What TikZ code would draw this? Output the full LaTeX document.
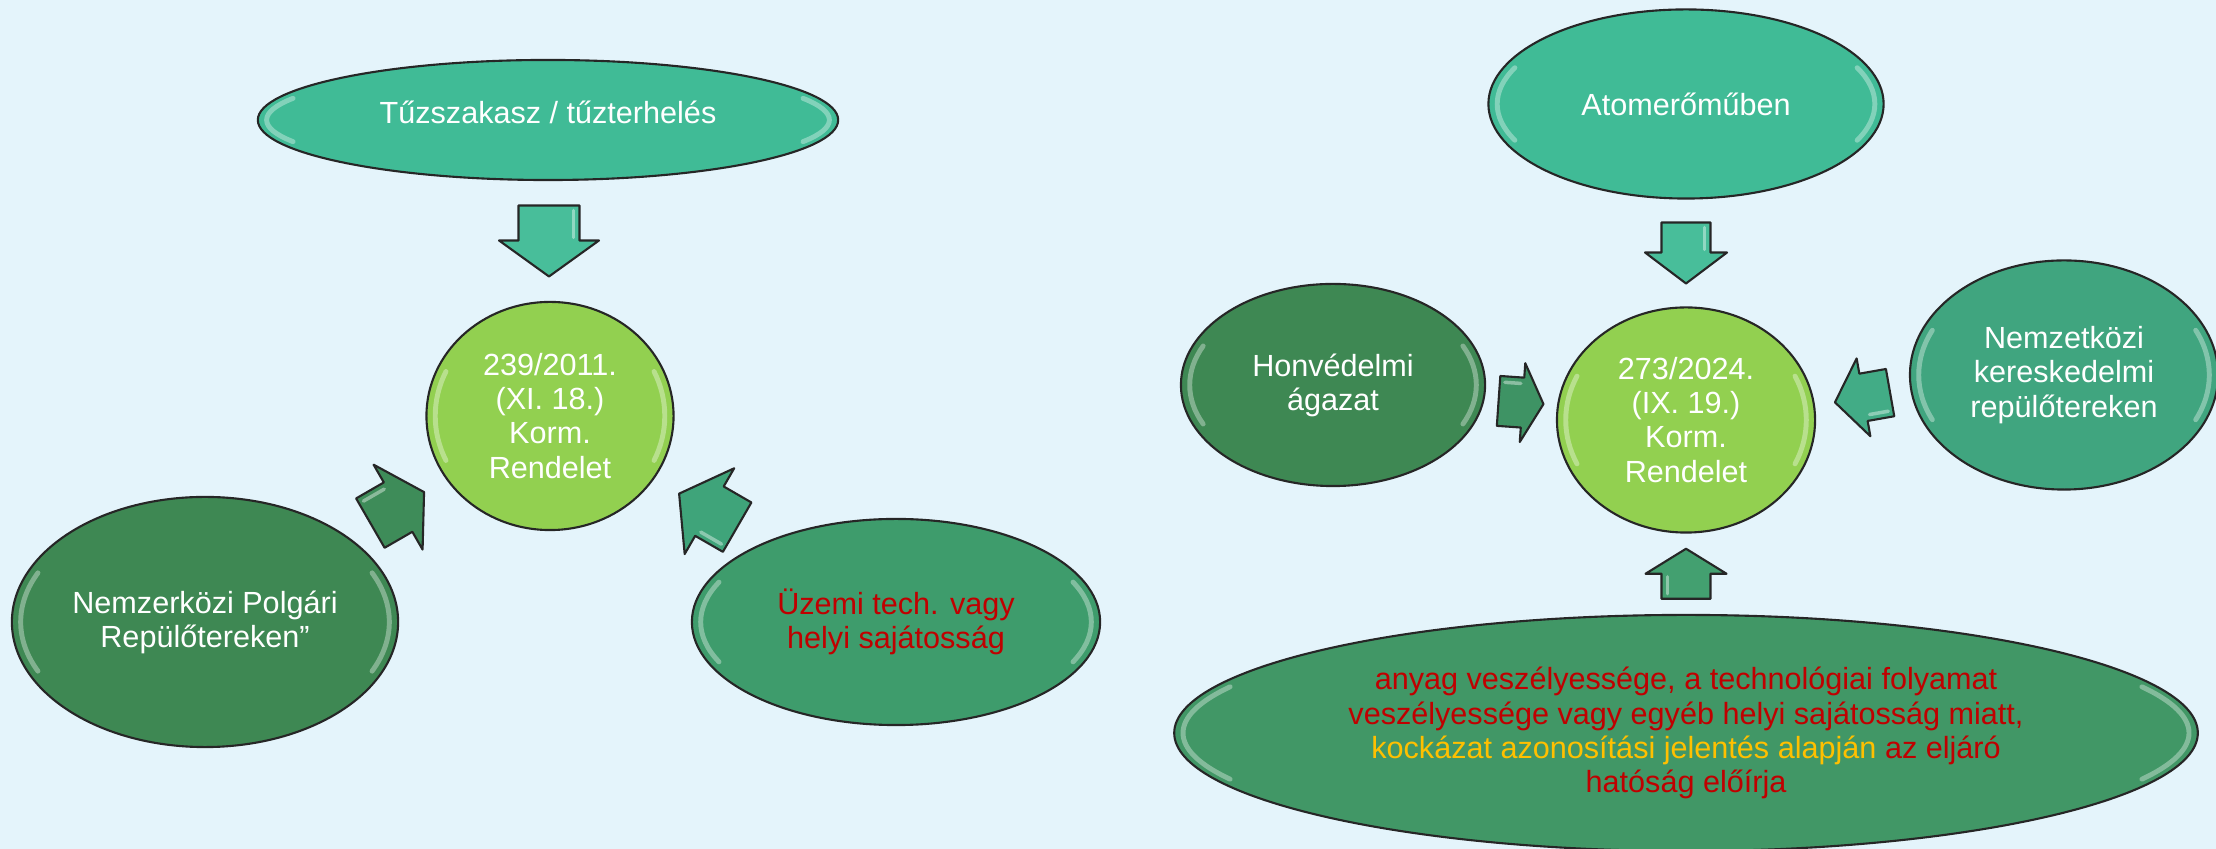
\documentclass[tikz,border=0pt]{standalone}
\usepackage{fontspec}
\setmainfont{Liberation Sans}
\usetikzlibrary{shapes.geometric,calc}

\definecolor{bgblue}{HTML}{E4F4FB}
\definecolor{topteal}{HTML}{40BB96}
\definecolor{centregreen}{HTML}{92D050}
\definecolor{darkgreen}{HTML}{3E8853}
\definecolor{midgreen}{HTML}{3E9C6C}
\definecolor{seagreen}{HTML}{40A57F}
\definecolor{bottomgreen}{HTML}{419766}
\definecolor{txtred}{HTML}{C00000}
\definecolor{txtgold}{HTML}{FFC000}
\definecolor{arrteal}{HTML}{48BE9A}
\definecolor{arrdark}{HTML}{3E8C59}
\definecolor{arrmid}{HTML}{3FA47A}
\definecolor{arrhonv}{HTML}{3E9364}
\definecolor{arrsea}{HTML}{42AC86}
\definecolor{arrbottom}{HTML}{43A070}

\tikzset{
  pics/blockarr/.style n args={4}{code={
    \path[pic actions] (-#1/2,-#3/2) -- (#1/2-#2,-#3/2) -- (#1/2-#2,-#4/2) -- (#1/2,0)
      -- (#1/2-#2,#4/2) -- (#1/2-#2,#3/2) -- (-#1/2,#3/2) -- cycle;
    \draw[white,opacity=.4,line width=1pt,line cap=round]
      (-#1/2+5,#3/2-6) -- (#1/2-#2-3,#3/2-6);
  }}
}

\begin{document}
\begin{tikzpicture}[x=0.01cm,y=0.01cm,line join=round,
    main node/.style={ellipse,draw=black!85,line width=0.6pt,text=white,align=center,
      inner sep=0pt,font=\fontsize{8.7}{9.7}\selectfont,
      path picture={\draw[white,opacity=.35,line width=1.4pt,line cap=round]
        let \p1=($(path picture bounding box.north east)-(path picture bounding box.center)$) in
        ($(path picture bounding box.center)+(155:{\x1-2.5pt} and {\y1-2.5pt})$)
          arc[start angle=155,end angle=205,x radius=\x1-2.5pt,y radius=\y1-2.5pt]
        ($(path picture bounding box.center)+(-25:{\x1-2.5pt} and {\y1-2.5pt})$)
          arc[start angle=-25,end angle=25,x radius=\x1-2.5pt,y radius=\y1-2.5pt];}},
    arrow node/.style={draw=black!85,line width=0.6pt}]
    \fill[bgblue] (0,0) rectangle (2216,849);
    \useasboundingbox (0,0) rectangle (2216,849);

    \node[main node,fill=topteal,minimum width=5.8cm,minimum height=1.2cm] (tuz) at (548,729) {\raisebox{0.16cm}{Tűzszakasz / tűzterhelés}};
    \node[main node,fill=centregreen,minimum width=2.47cm,minimum height=2.28cm] (reg1) at (550,433) {239/2011.\\(XI. 18.)\\Korm.\\Rendelet};
    \node[main node,fill=darkgreen,minimum width=3.86cm,minimum height=2.5cm] (polg) at (205,227) {Nemzerközi Polgári\\Repülőtereken”};
    \node[main node,fill=midgreen,text=txtred,minimum width=4.08cm,minimum height=2.06cm] (uzemi) at (896,227) {Üzemi tech. vagy\\helyi sajátosság};

    \node[main node,fill=topteal,minimum width=3.95cm,minimum height=1.89cm] (atom) at (1686,745) {Atomerőműben};
    \node[main node,fill=centregreen,minimum width=2.58cm,minimum height=2.25cm] (reg2) at (1686,429) {273/2024.\\(IX. 19.)\\Korm.\\Rendelet};
    \node[main node,fill=darkgreen,minimum width=3.04cm,minimum height=2.02cm] (honv) at (1333,464) {Honvédelmi\\ágazat};
    \node[main node,fill=seagreen,minimum width=3.08cm,minimum height=2.29cm] (nemzk) at (2064,474) {Nemzetközi\\kereskedelmi\\repülőtereken};
    \node[main node,fill=bottomgreen,text=txtred,minimum width=10.23cm,minimum height=2.36cm] (anyag) at (1686,116)
      {anyag veszélyessége, a technológiai folyamat\\veszélyessége vagy egyéb helyi sajátosság miatt,\\\textcolor{txtgold}{kockázat azonosítási jelentés alapján} az eljáró\\hatóság előírja};

    \pic[arrow node,fill=arrteal,rotate=-90] at ($(tuz.south)!0.5!(reg1.north)$) {blockarr={71}{36}{61}{100}};
    \pic[arrow node,fill=arrdark,rotate=30] at ($(polg.30)!0.5!(reg1.210)$) {blockarr={62}{30}{57}{98}};
    \pic[arrow node,fill=arrmid,rotate=150] at ($(uzemi.150)!0.5!(reg1.330)$) {blockarr={67}{35}{57}{99}};
    \pic[arrow node,fill=arrteal,rotate=-90] at ($(atom.south)!0.5!(reg2.north)$) {blockarr={61}{31}{49}{82}};
    \pic[arrow node,fill=arrhonv,rotate=-4] at ($(honv.east)!0.5!(reg2.west)$) {blockarr={45}{21}{50}{79}};
    \pic[arrow node,fill=arrsea,rotate=190] at ($(nemzk.west)!0.5!(reg2.east)$) {blockarr={56}{29}{48}{79}};
    \pic[arrow node,fill=arrbottom,rotate=90] at ($(anyag.north)!0.5!(reg2.south)$) {blockarr={50}{25}{49}{81}};
\end{tikzpicture}
\end{document}
